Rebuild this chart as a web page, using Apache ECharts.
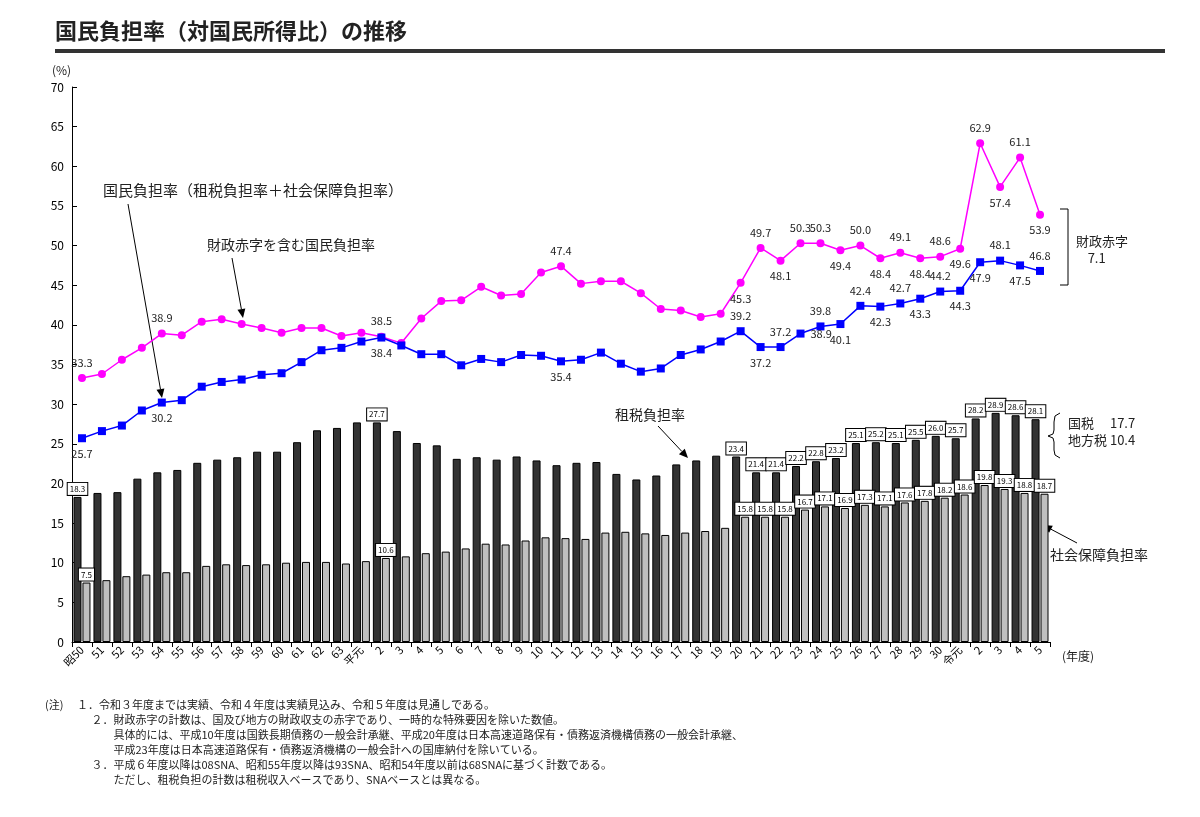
<!DOCTYPE html>
<html lang="ja">
<head>
<meta charset="UTF-8">
<title>国民負担率の推移</title>
<script src="https://cdn.jsdelivr.net/npm/echarts@6/dist/echarts.min.js"></script>
<style>
  html, body { margin: 0; padding: 0; background: #fff; }
  #main { width: 1200px; height: 817px; }
</style>
</head>
<body>
<div id="main"></div>
<script>
var years = ['昭50','51','52','53','54','55','56','57','58','59','60','61','62','63',
  '平元','2','3','4','5','6','7','8','9','10','11','12','13','14','15','16','17','18','19','20',
  '21','22','23','24','25','26','27','28','29','30','令元','2','3','4','5'];
var taxRate = [18.3,18.8,18.9,20.6,21.4,21.7,22.6,23.0,23.3,24.0,24.0,25.2,26.7,27.0,
  27.7,27.7,26.6,25.1,24.8,23.1,23.3,23.0,23.4,22.9,22.3,22.6,22.7,21.2,20.5,21.0,22.4,22.9,23.5,23.4,
  21.4,21.4,22.2,22.8,23.2,25.1,25.2,25.1,25.5,26.0,25.7,28.2,28.9,28.6,28.1];
var socialRate = [7.5,7.8,8.3,8.5,8.8,8.8,9.6,9.8,9.7,9.8,10.0,10.1,10.1,9.9,
  10.2,10.6,10.8,11.2,11.4,11.8,12.4,12.3,12.8,13.2,13.1,13.0,13.8,13.9,13.7,13.5,13.8,14.0,14.4,15.8,
  15.8,15.8,16.7,17.1,16.9,17.3,17.1,17.6,17.8,18.2,18.6,19.8,19.3,18.8,18.7];
var nationalRate = [25.7,26.6,27.3,29.2,30.2,30.5,32.2,32.8,33.1,33.7,33.9,35.3,36.8,37.1,
  37.9,38.4,37.4,36.3,36.3,34.9,35.7,35.3,36.2,36.1,35.4,35.6,36.5,35.1,34.1,34.5,36.2,36.9,37.9,39.2,
  37.2,37.2,38.9,39.8,40.1,42.4,42.3,42.7,43.3,44.2,44.3,47.9,48.1,47.5,46.8];
var withDeficit = [33.3,33.8,35.6,37.1,38.9,38.7,40.4,40.7,40.1,39.6,39.0,39.6,39.6,38.6,
  39.0,38.5,37.7,40.8,43.0,43.1,44.8,43.7,43.9,46.6,47.4,45.2,45.5,45.5,44.0,42.0,41.8,41.0,41.4,45.3,
  49.7,48.1,50.3,50.3,49.4,50.0,48.4,49.1,48.4,48.6,49.6,62.9,57.4,61.1,53.9];

// which points get a value label, and where
var pinkLabels = {0:'top',4:'top',15:'top',24:'top',33:'bottom',34:'top',35:'bottom',36:'top',37:'top',
  38:'bottom',39:'top',40:'bottom',41:'top',42:'bottom',43:'top',44:'bottom',45:'top',46:'bottom',47:'top',48:'bottom'};
var blueLabels = {0:'bottom',4:'bottom',15:'bottom',24:'bottom',33:'top',34:'bottom',35:'top',36:'right',37:'top',
  38:'bottom',39:'top',40:'bottom',41:'top',42:'bottom',43:'top',44:'bottom',45:'bottom',46:'top',47:'bottom',48:'top'};

function lineData(vals, map) {
  return vals.map(function (v, i) {
    if (map[i]) {
      return { value: v, label: { show: true, position: map[i], distance: 6,
        formatter: function (p) { return p.value.toFixed(1); } } };
    }
    return v;
  });
}
function barData(vals) {
  return vals.map(function (v, i) {
    if (i === 0 || i === 15 || i >= 33) {
      return { value: v, label: { show: true } };
    }
    return v;
  });
}
var boxLabel = {
  show: false, position: 'top', distance: 2, fontSize: 8, color: '#000',
  backgroundColor: '#fff', borderColor: '#000', borderWidth: 1, padding: [2, 2],
  formatter: function (p) { return p.value.toFixed(1); }
};

function arrow(x1, y1, x2, y2) {
  var a = Math.atan2(y2 - y1, x2 - x1), s = 9, w = 4;
  var bx = x2 - s * Math.cos(a), by = y2 - s * Math.sin(a);
  return { type: 'group', children: [
    { type: 'line', shape: { x1: x1, y1: y1, x2: bx, y2: by }, style: { stroke: '#000', lineWidth: 1 } },
    { type: 'polygon', shape: { points: [[x2, y2],
      [bx + w * Math.sin(a), by - w * Math.cos(a)], [bx - w * Math.sin(a), by + w * Math.cos(a)]] },
      style: { fill: '#000' } }
  ] };
}
function txt(x, y, s, size, bold) {
  return { type: 'text', x: x, y: y, style: { text: s, fill: '#222',
    font: (bold ? 'bold ' : '') + size + 'px "Noto Sans CJK JP", sans-serif', lineHeight: size + 4 } };
}
function seg(x1, y1, x2, y2) {
  return { type: 'line', shape: { x1: x1, y1: y1, x2: x2, y2: y2 }, style: { stroke: '#000', lineWidth: 1 } };
}

var notes = [
  '(注)　 １．令和３年度までは実績、令和４年度は実績見込み、令和５年度は見通しである。',
  '　　　　 ２．財政赤字の計数は、国及び地方の財政収支の赤字であり、一時的な特殊要因を除いた数値。',
  '　　　　　　 具体的には、平成10年度は国鉄長期債務の一般会計承継、平成20年度は日本高速道路保有・債務返済機構債務の一般会計承継、',
  '　　　　　　 平成23年度は日本高速道路保有・債務返済機構の一般会計への国庫納付を除いている。',
  '　　　　 ３．平成６年度以降は08SNA、昭和55年度以降は93SNA、昭和54年度以前は68SNAに基づく計数である。',
  '　　　　　　 ただし、租税負担の計数は租税収入ベースであり、SNAベースとは異なる。'
];

var chart = echarts.init(document.getElementById('main'));
chart.setOption({
  animation: false,
  textStyle: { fontFamily: '"Noto Sans CJK JP", sans-serif' },
  grid: { left: 72, right: 150, top: 87, bottom: 175 },
  xAxis: {
    type: 'category', data: years,
    axisLine: { lineStyle: { color: '#000' } },
    axisTick: { show: true, lineStyle: { color: '#000' } },
    axisLabel: { interval: 0, rotate: 45, color: '#000', fontSize: 11, margin: 6 }
  },
  yAxis: {
    type: 'value', min: 0, max: 70, interval: 5,
    axisLine: { show: true, lineStyle: { color: '#000' } },
    axisTick: { show: true, inside: true, lineStyle: { color: '#000' } },
    splitLine: { show: false },
    axisLabel: { color: '#000', fontSize: 12 }
  },
  series: [
    { name: '租税負担率', type: 'bar', data: barData(taxRate), barWidth: 8, barGap: '12%',
      itemStyle: { color: '#333', borderColor: '#000', borderWidth: 1 }, label: boxLabel },
    { name: '社会保障負担率', type: 'bar', data: barData(socialRate), barWidth: 8,
      itemStyle: { color: '#bfbfbf', borderColor: '#000', borderWidth: 1 }, label: boxLabel },
    { name: '財政赤字を含む国民負担率', type: 'line', data: lineData(withDeficit, pinkLabels),
      symbol: 'circle', symbolSize: 8, lineStyle: { color: '#ff00ff', width: 1.5 },
      itemStyle: { color: '#ff00ff' }, label: { color: '#222', fontSize: 11 }, z: 5 },
    { name: '国民負担率', type: 'line', data: lineData(nationalRate, blueLabels),
      symbol: 'rect', symbolSize: 8, lineStyle: { color: '#0000ff', width: 1.5 },
      itemStyle: { color: '#0000ff' }, label: { color: '#222', fontSize: 11 }, z: 6 }
  ],
  graphic: { elements: [
    txt(55, 18, '国民負担率（対国民所得比）の推移', 22, true),
    { type: 'rect', shape: { x: 55, y: 49, width: 1110, height: 4 }, style: { fill: '#333' } },
    txt(52, 62, '(%)', 12),
    txt(1062, 648, '(年度)', 12),
    txt(103, 181, '国民負担率（租税負担率＋社会保障負担率）', 15),
    arrow(128, 204, 162, 398),
    txt(207, 236, '財政赤字を含む国民負担率', 14),
    arrow(232, 258, 243, 318),
    txt(615, 406, '租税負担率', 14),
    arrow(658, 426, 688, 458),
    txt(1050, 546, '社会保障負担率', 14),
    arrow(1077, 543, 1043, 525),
    seg(1060, 209, 1068, 209), seg(1068, 209, 1068, 285), seg(1068, 285, 1060, 285),
    txt(1076, 233, '財政赤字\n    7.1', 13),
    { type: 'polyline', shape: { points: [[1060, 413], [1055, 416], [1054, 422], [1054, 430], [1053, 434],
      [1048, 436], [1053, 438], [1054, 442], [1054, 450], [1055, 455], [1060, 458]] },
      style: { stroke: '#000', lineWidth: 1, fill: null } },
    txt(1068, 415, '国税　 17.7\n地方税 10.4', 13),
    txt(45, 697, notes.join('\n'), 11)
  ] }
});
</script>
</body>
</html>
